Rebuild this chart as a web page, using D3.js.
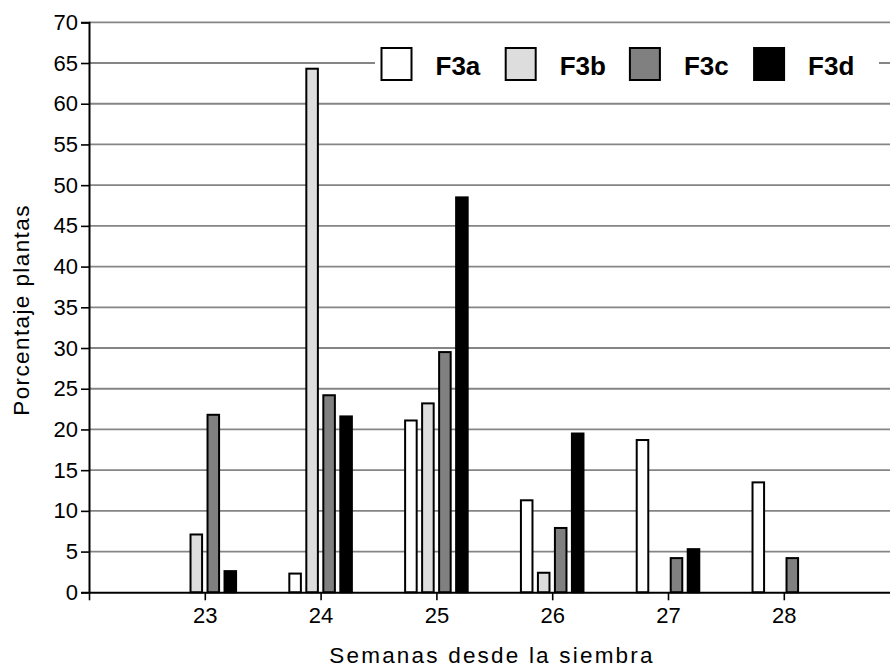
<!DOCTYPE html>
<html>
<head>
<meta charset="utf-8">
<script src="https://cdn.jsdelivr.net/npm/d3@7"></script>
<style>
  body { margin: 0; background: #fff; }
  svg { display: block; font-family: Arial, "Liberation Sans", sans-serif; }
</style>
</head>
<body>
<div class="chart"></div>
<script>
// semanas desde la siembra
const weeks = [23, 24, 25, 26, 27, 28]
const series = ['F3a', 'F3b', 'F3c', 'F3d']
// porcentaje de plantas por serie, una entrada por semana
const F3a = [0, 2.3, 21.1, 11.3, 18.7, 13.5]
const F3b = [7.1, 64.3, 23.2, 2.4, 0, 0]
const F3c = [21.8, 24.2, 29.5, 7.9, 4.2, 4.2]
const F3d = [2.6, 21.6, 48.5, 19.5, 5.3, 0]
const yTicks = d3.range(0, 71, 5)

const values = { F3a, F3b, F3c, F3d }
const fills = { F3a: '#ffffff', F3b: '#dddddd', F3c: '#808080', F3d: '#000000' }

const width = 890
const height = 668

const x = d3.scaleLinear()
    .domain([22, 29])
    .range([89, 899.6])
const y = d3.scaleLinear()
    .domain([0, 70])
    .range([592.3, 22.3])
// position of each series inside a week group, in pixels
const inner = d3.scaleBand()
    .domain(series)
    .range([-34, 34])
    .paddingInner(0.32)
    .paddingOuter(0.16)

const svg = d3.select('.chart').append('svg')
    .attr('width', width)
    .attr('height', height)

// grid
svg.append('g')
    .selectAll('line')
    .data(yTicks.filter(d => d > 0))
    .enter()
    .append('line')
    .attr('x1', x(22))
    .attr('x2', width)
    .attr('y1', d => y(d))
    .attr('y2', d => y(d))
    .attr('stroke', '#858585')
    .attr('stroke-width', 1.8)

// legend (white box hides the 65 gridline behind it)
const legend = svg.append('g')
legend.append('rect')
    .attr('x', 375)
    .attr('y', 40)
    .attr('width', 504)
    .attr('height', 48)
    .attr('fill', '#fff')
const item = legend.selectAll('g.item')
    .data(series)
    .enter()
    .append('g')
    .attr('class', 'item')
    .attr('transform', (d, i) => 'translate(' + (381.5 + i * 124.2) + ',48)')
item.append('rect')
    .attr('width', 30)
    .attr('height', 32)
    .attr('fill', d => fills[d])
    .attr('stroke', '#000')
    .attr('stroke-width', 2)
item.append('text')
    .attr('x', 54)
    .attr('y', 27)
    .attr('font-size', 26)
    .attr('font-weight', 'bold')
    .text(d => d)

// bars
const groups = svg.append('g')
    .selectAll('g')
    .data(weeks)
    .enter()
    .append('g')
    .attr('transform', d => 'translate(' + x(d) + ',0)')
groups.selectAll('rect')
    .data((d, i) => series.map(s => ({ key: s, value: values[s][i] })).filter(e => e.value > 0))
    .enter()
    .append('rect')
    .attr('x', d => inner(d.key))
    .attr('width', inner.bandwidth())
    .attr('y', d => y(d.value))
    .attr('height', d => y(0) - y(d.value))
    .attr('fill', d => fills[d.key])
    .attr('stroke', '#000')
    .attr('stroke-width', 2)

// y axis
const yAxis = svg.append('g')
    .attr('transform', 'translate(' + x(22) + ',0)')
    .call(d3.axisLeft(y).tickValues(yTicks).tickSize(8).tickPadding(3))
yAxis.select('.domain').attr('stroke-width', 2)
yAxis.selectAll('.tick line').attr('stroke-width', 1.6)
yAxis.selectAll('.tick text')
    .attr('font-size', 22)
    .attr('font-family', 'Arial, "Liberation Sans", sans-serif')
    .attr('fill', '#000')

// x axis
const xAxis = svg.append('g')
    .attr('transform', 'translate(0,' + y(0) + ')')
    .call(d3.axisBottom(x)
        .tickValues([22].concat(weeks))
        .tickFormat(d => d === 22 ? '' : d)
        .tickSize(8)
        .tickSizeOuter(0)
        .tickPadding(7))
xAxis.select('.domain').attr('stroke-width', 2)
xAxis.selectAll('.tick line').attr('stroke-width', 1.6)
xAxis.selectAll('.tick text')
    .attr('font-size', 22)
    .attr('font-family', 'Arial, "Liberation Sans", sans-serif')
    .attr('fill', '#000')

// titles
svg.append('text')
    .attr('x', 492)
    .attr('y', 663)
    .attr('text-anchor', 'middle')
    .attr('font-size', 22.5)
    .attr('letter-spacing', 2.2)
    .text('Semanas desde la siembra')
svg.append('text')
    .attr('transform', 'translate(29,310) rotate(-90)')
    .attr('text-anchor', 'middle')
    .attr('font-size', 22.5)
    .attr('letter-spacing', 1.4)
    .text('Porcentaje plantas')
</script>
</body>
</html>
